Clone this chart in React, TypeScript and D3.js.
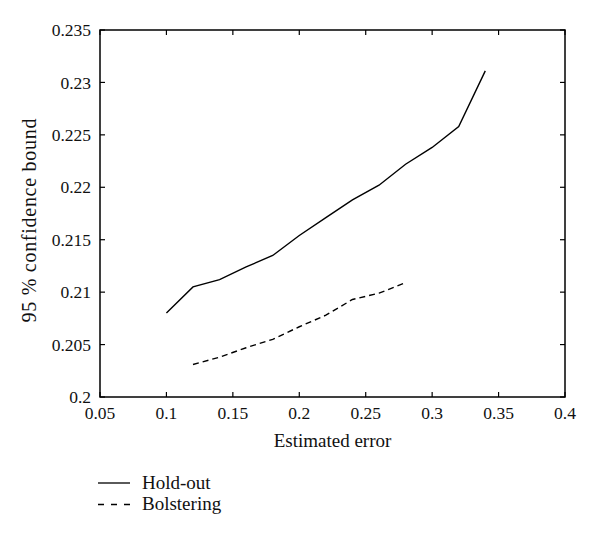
import { useRef, useEffect } from 'react';
import * as d3 from 'd3';

// Estimated error vs 95% confidence bound
const holdX = [0.1, 0.12, 0.14, 0.16, 0.18, 0.2, 0.22, 0.24, 0.26, 0.28, 0.3, 0.32, 0.34];
const holdY = [0.208, 0.2105, 0.2112, 0.2124, 0.2135, 0.2154, 0.2171, 0.2188, 0.2202, 0.2222, 0.2238, 0.2258, 0.2311];

const bolsX = [0.12, 0.14, 0.16, 0.18, 0.2, 0.22, 0.24, 0.26, 0.28];
const bolsY = [0.2031, 0.2038, 0.2047, 0.2055, 0.2067, 0.2078, 0.2093, 0.2099, 0.2109];

const xTicks = [0.05, 0.1, 0.15, 0.2, 0.25, 0.3, 0.35, 0.4];
const yTicks = [0.2, 0.205, 0.21, 0.215, 0.22, 0.225, 0.23, 0.235];

const seriesNames = ['Hold-out', 'Bolstering'];

const W = 600;
const H = 538;
const M = { left: 100, right: 565, top: 30, bottom: 397 };
const FONT = '"Liberation Serif", "DejaVu Serif", serif';

export default function App() {
  const svgRef = useRef<SVGSVGElement>(null);

  useEffect(() => {
    if (!svgRef.current) return;
    const svg = d3.select(svgRef.current);
    svg.selectAll('*').remove();

    const x = d3.scaleLinear().domain([0.05, 0.4]).range([M.left, M.right]);
    const y = d3.scaleLinear().domain([0.2, 0.235]).range([M.bottom, M.top]);
    const fmt = (d: number) => String(+d.toFixed(3));

    // frame
    svg.append('rect')
      .attr('x', M.left).attr('y', M.top)
      .attr('width', M.right - M.left).attr('height', M.bottom - M.top)
      .attr('fill', 'none').attr('stroke', '#000').attr('stroke-width', 1.5);

    const tl = 5;
    // x ticks, inward on bottom and top
    xTicks.forEach((t) => {
      svg.append('line')
        .attr('x1', x(t)).attr('x2', x(t))
        .attr('y1', M.bottom).attr('y2', M.bottom - tl)
        .attr('stroke', '#000').attr('stroke-width', 1.2);
      svg.append('line')
        .attr('x1', x(t)).attr('x2', x(t))
        .attr('y1', M.top).attr('y2', M.top + tl)
        .attr('stroke', '#000').attr('stroke-width', 1.2);
      svg.append('text')
        .attr('x', x(t)).attr('y', 419)
        .attr('text-anchor', 'middle')
        .attr('font-family', FONT).attr('font-size', 17.5)
        .attr('fill', '#111')
        .text(fmt(t));
    });

    // y ticks, inward on left and right
    yTicks.forEach((t) => {
      svg.append('line')
        .attr('x1', M.left).attr('x2', M.left + tl)
        .attr('y1', y(t)).attr('y2', y(t))
        .attr('stroke', '#000').attr('stroke-width', 1.2);
      svg.append('line')
        .attr('x1', M.right).attr('x2', M.right - tl)
        .attr('y1', y(t)).attr('y2', y(t))
        .attr('stroke', '#000').attr('stroke-width', 1.2);
      svg.append('text')
        .attr('x', M.left - 9).attr('y', y(t))
        .attr('dy', '0.35em')
        .attr('text-anchor', 'end')
        .attr('font-family', FONT).attr('font-size', 17.5)
        .attr('fill', '#111')
        .text(fmt(t));
    });

    // axis titles
    svg.append('text')
      .attr('x', (M.left + M.right) / 2).attr('y', 447)
      .attr('text-anchor', 'middle')
      .attr('font-family', FONT).attr('font-size', 19)
      .attr('fill', '#111')
      .text('Estimated error');

    svg.append('text')
      .attr('transform', 'translate(36,220.5) rotate(-90)')
      .attr('text-anchor', 'middle')
      .attr('font-family', FONT).attr('font-size', 20)
      .attr('textLength', 204)
      .attr('lengthAdjust', 'spacing')
      .attr('fill', '#111')
      .text('95 % confidence bound');

    const line = d3.line<[number, number]>()
      .x((d) => x(d[0]))
      .y((d) => y(d[1]));

    svg.append('path')
      .datum(holdX.map((v, i) => [v, holdY[i]] as [number, number]))
      .attr('fill', 'none').attr('stroke', '#000').attr('stroke-width', 1.4)
      .attr('d', line);

    svg.append('path')
      .datum(bolsX.map((v, i) => [v, bolsY[i]] as [number, number]))
      .attr('fill', 'none').attr('stroke', '#000').attr('stroke-width', 1.4)
      .attr('stroke-dasharray', '6,4')
      .attr('d', line);

    // legend
    const legY = [483, 504.5];
    seriesNames.forEach((name, i) => {
      svg.append('line')
        .attr('x1', 98).attr('x2', 130)
        .attr('y1', legY[i]).attr('y2', legY[i])
        .attr('stroke', '#000').attr('stroke-width', 1.3)
        .attr('stroke-dasharray', i === 1 ? '6,7' : null);
      svg.append('text')
        .attr('x', 142).attr('y', legY[i] + 5.5)
        .attr('font-family', FONT).attr('font-size', 19)
        .attr('fill', '#111')
        .text(name);
    });
  }, []);

  return (
    <svg
      ref={svgRef}
      width={W}
      height={H}
      style={{ position: 'absolute', left: 0, top: 0, background: '#fff' }}
    />
  );
}
